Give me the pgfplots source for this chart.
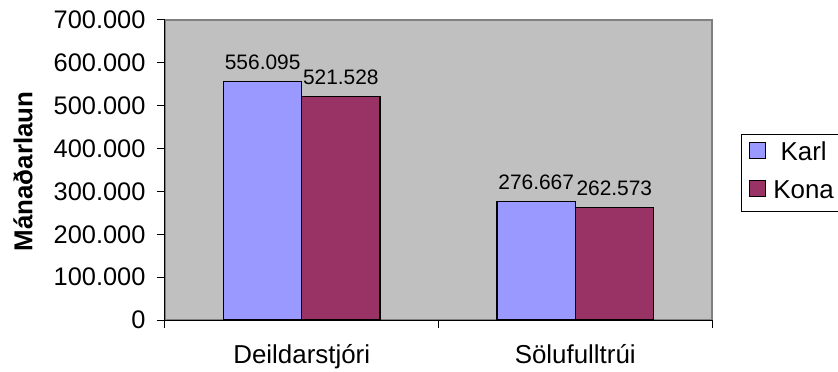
\documentclass[border=0pt]{standalone}
\usepackage{fontspec}
\setmainfont{Liberation Sans}
\usepackage{pgfplots}
\pgfplotsset{compat=1.18}
\definecolor{karl}{HTML}{9999FF}
\definecolor{kona}{HTML}{993366}
\definecolor{plotbg}{HTML}{C0C0C0}
\definecolor{plotframe}{HTML}{808080}
\begin{document}
\begin{tikzpicture}
\useasboundingbox (-165bp,-52bp) rectangle (673bp,320bp);
\begin{axis}[
  at={(0,0)}, anchor=south west,
  scale only axis,
  width=547bp, height=300bp,
  xmin=-0.5, xmax=1.5,
  ymin=0, ymax=700000,
  axis x line*=bottom, axis y line*=left,
  axis line style={black, line width=1pt},
  axis background/.style={fill=plotbg, draw=plotframe, line width=1.5pt},
  every tick/.style={black, line width=1pt},
  tick align=outside,
  major tick length=8bp,
  % category boundaries carry the tick marks, names sit between them
  xtick={-0.5,0.5,1.5},
  xticklabels={},
  extra x ticks={0,1},
  extra x tick labels={Deildarstjóri, Sölufulltrúi},
  extra x tick style={major tick length=0pt},
  ytick={0,100000,...,700000},
  scaled y ticks=false,
  /pgf/number format/fixed,
  /pgf/number format/precision=0,
  /pgf/number format/1000 sep={.},
  /pgf/number format/assume math mode=true,
  yticklabel style={font=\fontsize{25.5}{28}\selectfont, xshift=-8bp},
  xticklabel style={font=\fontsize{26}{28}\selectfont, yshift=-21bp},
  ylabel={\bfseries Mánaðarlaun},
  ylabel style={font=\fontsize{26}{28}\selectfont, at={(axis description cs:-0.2596,0.495)}, anchor=center},
  ybar, bar width=0.285714,
  nodes near coords,
  nodes near coords style={font=\fontsize{21}{24}\selectfont},
  every node near coord/.append style={yshift=8bp},
  legend style={at={(axis description cs:1.053,0.49)}, anchor=west, draw=black, line width=0.8pt,
    font=\fontsize{26}{28}\selectfont, inner xsep=8bp, inner ysep=7bp,
    nodes={inner sep=0pt, text height=19bp, text depth=6bp},
    row sep=13bp,
    /tikz/every odd column/.append style={column sep=7bp}},
  legend image code/.code={\draw[#1, line width=1pt, draw=black] (0bp,-5bp) rectangle (16bp,11bp);},
  clip=false,
]
\addplot[fill=karl, draw=black, line width=1.3pt, bar shift=-0.142857] coordinates {(0,556095) (1,276667)};
\addplot[fill=kona, draw=black, line width=1.3pt, bar shift=0.142857] coordinates {(0,521528) (1,262573)};
\legend{Karl, Kona}
\end{axis}
\end{tikzpicture}
\end{document}
